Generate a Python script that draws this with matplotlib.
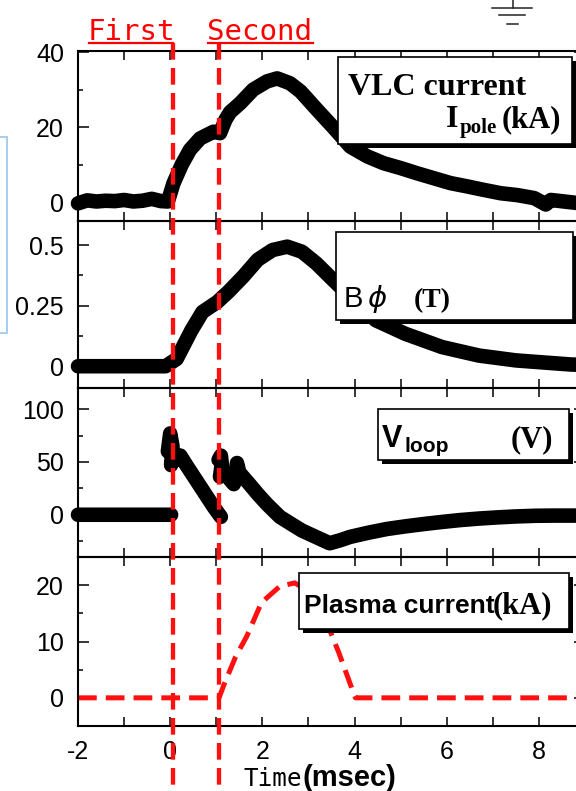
import numpy as np
import matplotlib
matplotlib.use("Agg")
import matplotlib.pyplot as plt
from matplotlib.ticker import MultipleLocator, FixedLocator, FixedFormatter
from matplotlib.patches import Rectangle
from matplotlib.lines import Line2D
from matplotlib.transforms import blended_transform_factory

plt.rcParams['font.family'] = ['Liberation Sans', 'DejaVu Sans']
plt.rcParams['axes.unicode_minus'] = False
plt.rcParams['lines.scale_dashes'] = False

# VLC pole current (kA)
t_ipole = [-2.0, -1.8, -1.6, -1.4, -1.2, -1.0, -0.8, -0.6, -0.4, -0.2, -0.05,
           0.07, 0.25, 0.43, 0.65, 0.94, 1.08, 1.2, 1.3, 1.52, 1.8, 2.1, 2.32,
           2.6, 2.83, 3.19, 3.55, 3.91, 4.28, 4.63, 5.0, 5.36, 5.72, 6.08,
           6.45, 6.8, 7.17, 7.53, 7.9, 8.15, 8.26, 8.9]
ipole = [-0.3, 0.5, 0.2, 0.4, 0.3, 0.6, 0.2, 0.4, 0.9, 0.3, 0.2,
         5.0, 10.0, 14.0, 17.0, 18.8, 18.4, 22.0, 24.0, 26.4, 30.0, 32.2, 33.0,
         31.7, 29.5, 24.6, 19.8, 14.8, 12.2, 10.4, 9.1, 7.7, 6.4, 5.1,
         4.2, 3.3, 2.4, 1.9, 1.1, -0.6, 0.6, -0.3]

# toroidal field B_phi (T)
t_bphi = [-2.0, -1.0, -0.1, 0.14, 0.46, 0.7, 1.02, 1.26, 1.58, 1.9, 2.22,
          2.54, 2.86, 3.17, 3.5, 4.0, 4.46, 5.1, 5.9, 6.7, 7.5, 8.7, 8.9]
bphi = [0.0, 0.0, 0.0, 0.03, 0.148, 0.224, 0.265, 0.307, 0.37, 0.44, 0.48,
        0.494, 0.473, 0.425, 0.363, 0.27, 0.19, 0.134, 0.079, 0.044, 0.024,
        0.007, 0.006]

# loop voltage (V); NaN separates the recorded segments
t_vloop = [-2.0, -1.0, 0.02, np.nan,
           -0.05, 0.0, 0.05, 0.02, 0.1, 0.15, 0.22, 0.35, 0.5, 0.65, 0.8,
           0.95, 1.1, np.nan,
           1.05, 1.1, 1.12, 1.08, 1.2, 1.3, 1.38, 1.45, 1.5, 1.7, 1.9, 2.1,
           2.38, 2.6, 2.86, 3.18, 3.46, 3.7, 3.9, 4.3, 4.7, 5.1, 5.5, 5.9,
           6.3, 6.7, 7.1, 7.5, 7.9, 8.3, 8.9]
vloop = [0.0, 0.0, 0.0, np.nan,
         60, 77, 65, 47, 58, 52, 56, 47, 37, 27, 17,
         7, -2, np.nan,
         52, 56, 48, 36, 40, 33, 29, 49, 40, 30, 19.6, 10,
         -2, -8, -15, -21.4, -27, -24, -21, -17, -13.5, -11, -8.8, -6.8,
         -5, -3.6, -2.5, -1.6, -1.0, -0.8, -0.8]

# plasma current (kA)
t_ip = [-2.0, 1.06, 1.18, 1.42, 1.66, 1.98, 2.38, 2.7, 3.02, 3.34, 3.66,
        3.9, 4.02, 8.9]
ip = [0.0, 0.0, 2.6, 7.3, 10.9, 16.9, 19.8, 20.4, 18.9, 14.5, 8.0,
      2.6, 0.0, 0.0]

t_first = 0.06
t_second = 1.05

W, H = 576, 791
fig = plt.figure(figsize=(W / 100, H / 100), dpi=100)


def fx(x):
    return x / W


def fy(y):
    return 1 - y / H


# panels stacked, pixel rows of each frame (top, bottom)
rows = [(51, 221), (221, 388), (388, 557), (557, 726)]
left, right = 78, 585
axes = []
for top, bottom in rows:
    ax = fig.add_axes([fx(left), fy(bottom), (right - left) / W, (bottom - top) / H])
    ax.set_facecolor('none')
    axes.append(ax)
ax1, ax2, ax3, ax4 = axes

black = dict(color='black', lw=10.5, solid_capstyle='round',
             solid_joinstyle='round', clip_on=False)
ax1.plot(t_ipole, ipole, **black)
ax2.plot(t_bphi, bphi, **black)
ax3.plot(t_vloop, vloop, **black)
ax4.plot(t_ip, ip, color='#ff1010', lw=3.6, dashes=(13.5, 6.5), clip_on=False)

ax1.set_ylim(-5, 40.3)
ax2.set_ylim(-0.09, 0.6)
ax3.set_ylim(-40, 120)
ax4.set_ylim(-5, 25)

ax1.yaxis.set_major_locator(FixedLocator([0, 20, 40]))
ax1.yaxis.set_minor_locator(MultipleLocator(10))
ax2.yaxis.set_major_locator(FixedLocator([0, 0.25, 0.5]))
ax2.yaxis.set_major_formatter(FixedFormatter(['0', '0.25', '0.5']))
ax2.yaxis.set_minor_locator(MultipleLocator(0.125))
ax3.yaxis.set_major_locator(FixedLocator([0, 50, 100]))
ax3.yaxis.set_minor_locator(MultipleLocator(25))
ax4.yaxis.set_major_locator(FixedLocator([0, 10, 20]))
ax4.yaxis.set_minor_locator(MultipleLocator(5))

for ax in axes:
    ax.set_xlim(-2, 9)
    ax.xaxis.set_major_locator(MultipleLocator(2))
    ax.xaxis.set_minor_locator(MultipleLocator(1))
    ax.tick_params(axis='x', which='both', direction='in', top=True, bottom=True,
                   length=6.5, width=1.1, labelsize=18, pad=10,
                   labelbottom=(ax is ax4))
    ax.tick_params(axis='y', which='major', direction='in', left=True, right=True,
                   length=8, width=1.1, labelsize=18, pad=10)
    ax.tick_params(axis='y', which='minor', direction='in', left=True, right=True,
                   length=3.6, width=1.1)
    for s in ax.spines.values():
        s.set_linewidth(1.5)

# trigger markers across all panels
trans = blended_transform_factory(ax4.transData, fig.transFigure)
for tt in (t_first, t_second):
    ax4.plot([tt, tt], [fy(43), 0], transform=trans, color='#ff1010', lw=3.1,
             dashes=(12, 6), clip_on=False, zorder=5)

red_label = dict(color='#ff0000', fontsize=21, family='DejaVu Sans Mono',
                 ha='left', va='baseline')
fig.text(fx(88), fy(40), 'First', **red_label)
fig.text(fx(207), fy(40), 'Second', **red_label)
for x0, x1 in [(89, 173), (208, 312.5)]:
    fig.add_artist(Line2D([fx(x0), fx(x1)], [fy(42.7), fy(42.7)],
                          color='#ff0000', lw=1.6))


def label_box(x0, y0, x1, y1):
    shadow = Rectangle((fx(x0 + 4), fy(y1 + 4)), (x1 - x0) / W, (y1 - y0) / H,
                       facecolor='black', edgecolor='none')
    box = Rectangle((fx(x0), fy(y1)), (x1 - x0) / W, (y1 - y0) / H,
                    facecolor='white', edgecolor='black', lw=1.2)
    fig.add_artist(shadow)
    fig.add_artist(box)


def txt(x, y, s, size, family='Liberation Sans', weight='bold', **kw):
    fig.text(fx(x), fy(y), s, fontsize=size, family=family, weight=weight,
             ha='left', va='baseline', **kw)


serif = 'Liberation Serif'

label_box(338, 57, 572, 144)
txt(348, 95, 'VLC current', 23, serif)
txt(446, 127, 'I', 23, serif)
txt(460, 133, 'pole', 15, serif)
txt(502, 127, '(kA)', 22, serif)

label_box(336, 232, 573, 320)
txt(344, 307, 'B', 21, weight='normal')
txt(367, 307, r'$\phi$', 21, weight='normal')
txt(413.6, 307, '(T)', 20, serif)

label_box(378, 409, 569, 460)
txt(382, 447, 'V', 22)
txt(404.5, 452, 'loop', 15)
txt(511, 447, '(V)', 22, serif)

label_box(298.5, 573, 569, 629)
txt(304.4, 613, 'Plasma current', 19)
txt(492.6, 613, '(kA)', 22, serif)

txt(244, 786, 'Time', 17.5, 'DejaVu Sans Mono', weight='normal')
txt(303, 786, '(msec)', 21)

# ground symbol in the top right corner
for xa, xb, yy in [(512.7, 512.7, None), (492, 532, 8), (498.7, 524.7, 15.3),
                   (507, 517.7, 24)]:
    if yy is None:
        fig.add_artist(Line2D([fx(xa), fx(xb)], [fy(0), fy(8)], color='#222222', lw=1.1))
    else:
        fig.add_artist(Line2D([fx(xa), fx(xb)], [fy(yy), fy(yy)], color='#222222', lw=1.1))

# light blue frame at the left margin
fig.add_artist(Rectangle((fx(-10), fy(332.7)), 17.3 / W, (332.7 - 137.3) / H,
                         facecolor='none', edgecolor='#a6cdf2', lw=1.4))

fig.savefig('out.png', dpi=100)
